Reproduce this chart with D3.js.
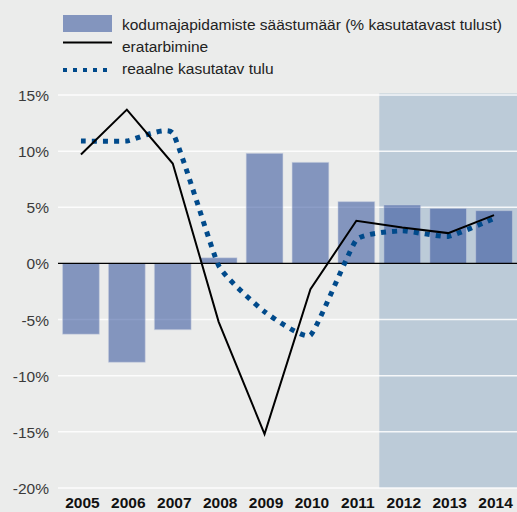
<!DOCTYPE html>
<html><head><meta charset="utf-8">
<script src="https://cdn.jsdelivr.net/npm/d3@7"></script>
<style>
html,body{margin:0;padding:0;background:#ebeceb;}
svg{display:block;font-family:"Liberation Sans",Arial,sans-serif;}
</style></head>
<body>
<svg id="chart" width="517" height="512"></svg>
<script>
const years = ["2005","2006","2007","2008","2009","2010","2011","2012","2013","2014"];
const savingsRate = [-6.3,-8.8,-5.9,0.5,9.8,9.0,5.5,5.2,4.9,4.7];
const privateConsumption = [9.7,13.7,8.9,-5.2,-15.2,-2.3,3.8,3.2,2.7,4.3];
const realDisposableIncome = [10.9,10.9,11.6,-0.2,-4.3,-6.4,2.1,2.9,2.4,4.0];
const yTicks = [15,10,5,0,-5,-10,-15,-20];
const forecastStart = "2012";
const legendLabels = ["kodumajapidamiste säästumäär (% kasutatavast tulust)","eratarbimine","reaalne kasutatav tulu"];

(function(){
const svg = d3.select("#chart");
const W = 517, H = 512;
const pLeft = 58, pRight = 517, pTop = 95, pBottom = 488;

svg.append("rect").attr("width",W).attr("height",H).attr("fill","#ebeceb");

const x = d3.scaleBand().domain(years).range([pLeft,pRight]).paddingInner(0.2).paddingOuter(0.1);
const y = d3.scaleLinear().domain([-20,15]).range([pBottom,pTop]);

// forecast shading
const sx = x(forecastStart) - x.step()*x.paddingInner()/2;
svg.append("rect").attr("x",sx).attr("y",y(15)-1.5).attr("width",W-sx).attr("height",y(-20)-y(15)+1.5)
  .attr("fill","#bccbd8");

// gridlines
svg.append("g").selectAll("line").data(yTicks.filter(d=>d!==0)).join("line")
  .attr("x1",pLeft).attr("x2",pRight).attr("y1",d=>y(d)).attr("y2",d=>y(d))
  .attr("stroke","#ffffff").attr("stroke-width",1.5).attr("stroke-opacity",0.85);

// y axis labels
const yAxis = d3.axisLeft(y).tickValues(yTicks).tickSize(0).tickPadding(0).tickFormat(d=>d+"%");
const ya = svg.append("g").attr("transform",`translate(49,0)`).call(yAxis);
ya.select(".domain").remove();
ya.selectAll("text").attr("font-size",15.5).attr("fill","#3a3a3a").attr("font-family","Liberation Sans, Arial, sans-serif").attr("dy","0.35em");

// bars
svg.append("g").selectAll("rect").data(years).join("rect")
  .attr("x",d=>x(d)).attr("width",x.bandwidth())
  .attr("y",(d,i)=>y(Math.max(0,savingsRate[i])))
  .attr("height",(d,i)=>Math.abs(y(savingsRate[i])-y(0)))
  .attr("fill","rgb(28,62,145)").attr("fill-opacity",0.5)
  .attr("stroke","#c8d0e0").attr("stroke-opacity",0.5).attr("stroke-width",1);

// zero line
svg.append("line").attr("x1",pLeft).attr("x2",pRight).attr("y1",y(0)).attr("y2",y(0))
  .attr("stroke","#000").attr("stroke-width",1.2);

const cx = d=>x(d)+x.bandwidth()/2;

// dotted line
const dotLine = d3.line().x((d,i)=>cx(years[i])).y(d=>y(d)).curve(d3.curveCardinal.tension(0.6));
svg.append("path").datum(realDisposableIncome).attr("d",dotLine)
  .attr("fill","none").attr("stroke","#004a8b").attr("stroke-width",5).attr("stroke-dasharray","5,6");

// black line
const solidLine = d3.line().x((d,i)=>cx(years[i])).y(d=>y(d));
svg.append("path").datum(privateConsumption).attr("d",solidLine)
  .attr("fill","none").attr("stroke","#000").attr("stroke-width",2);

// x labels
const xAxis = d3.axisBottom(x).tickSize(0).tickPadding(0);
const xa = svg.append("g").attr("transform",`translate(1.5,508)`).call(xAxis);
xa.select(".domain").remove();
xa.selectAll("text").attr("font-size",15.5).attr("font-weight","bold").attr("fill","#111")
  .attr("font-family","Liberation Sans, Arial, sans-serif").attr("dy","0");

// legend
const lg = svg.append("g");
lg.append("rect").attr("x",63).attr("y",15).attr("width",49).attr("height",17)
  .attr("fill","rgb(28,62,145)").attr("fill-opacity",0.5);
lg.append("line").attr("x1",63).attr("x2",112).attr("y1",42.5).attr("y2",42.5).attr("stroke","#000").attr("stroke-width",2);
lg.append("line").attr("x1",63).attr("x2",112).attr("y1",70).attr("y2",70).attr("stroke","#004a8b").attr("stroke-width",4).attr("stroke-dasharray","4,6");
lg.selectAll("text").data(legendLabels).join("text")
  .attr("x",122).attr("y",(d,i)=>24.5+i*22).attr("dy","0.35em")
  .attr("font-size",15.5).attr("fill","#222").text(d=>d);
})();
</script>
</body></html>
